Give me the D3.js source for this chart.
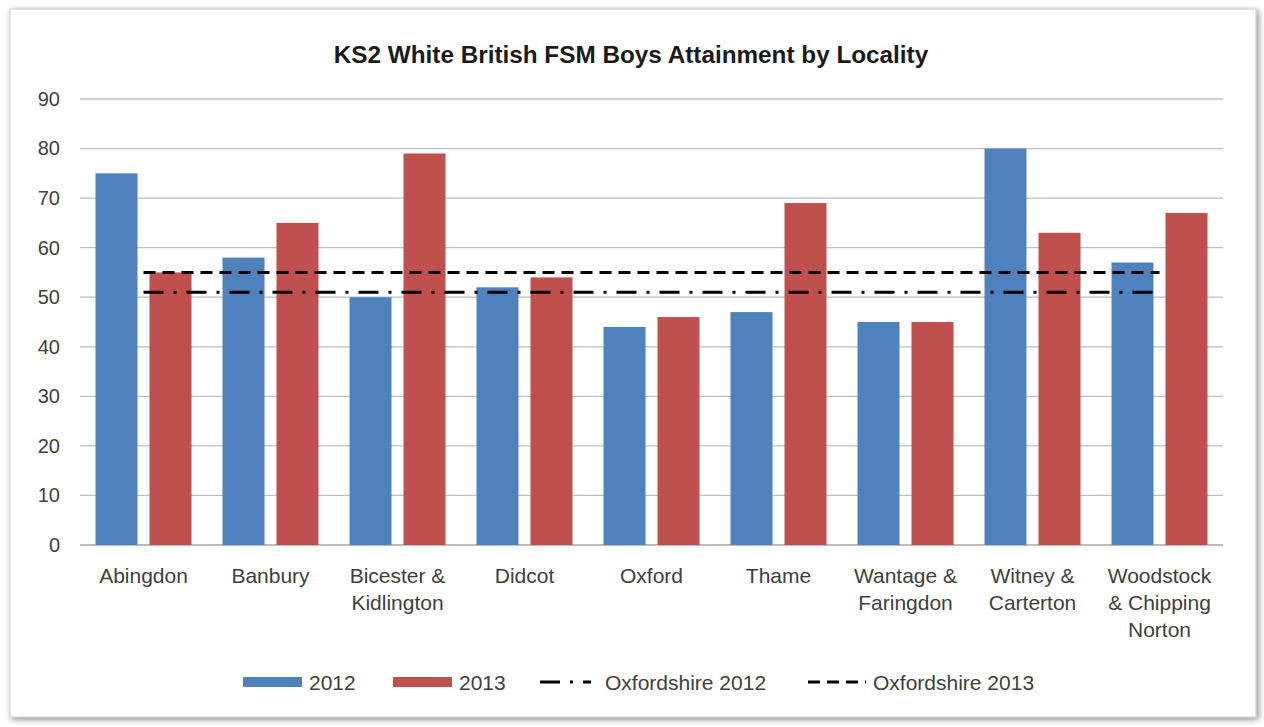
<!DOCTYPE html>
<html>
<head>
<meta charset="utf-8">
<script src="https://cdn.jsdelivr.net/npm/d3@7"></script>
<style>
  body { margin: 0; background: #fff; }
  text { font-family: "Liberation Sans", "DejaVu Sans", sans-serif; fill: #404040; }
</style>
</head>
<body>
<script>
// chart data
var localities = ["Abingdon", "Banbury", "Bicester & Kidlington", "Didcot", "Oxford",
  "Thame", "Wantage & Faringdon", "Witney & Carterton", "Woodstock & Chipping Norton"];
var labelLines = [["Abingdon"], ["Banbury"], ["Bicester &", "Kidlington"], ["Didcot"], ["Oxford"],
  ["Thame"], ["Wantage &", "Faringdon"], ["Witney &", "Carterton"], ["Woodstock", "& Chipping", "Norton"]];
var values2012 = [75, 58, 50, 52, 44, 47, 45, 80, 57];
var values2013 = [55, 65, 79, 54, 46, 69, 45, 63, 67];
var oxon2012 = 51;
var oxon2013 = 55;
var yTicks = [0, 10, 20, 30, 40, 50, 60, 70, 80, 90];

var w = 1264, h = 727;
var plotLeft = 80, plotRight = 1223, plotTop = 99, plotBottom = 545;

var svg = d3.select("body").append("svg")
  .attr("width", w)
  .attr("height", h);

// shadow + frame
var defs = svg.append("defs");
var f = defs.append("filter").attr("id", "shadow").attr("x", "-5%").attr("y", "-5%").attr("width", "110%").attr("height", "110%");
f.append("feDropShadow").attr("dx", 2).attr("dy", 2).attr("stdDeviation", 3).attr("flood-color", "#000").attr("flood-opacity", 0.45);

svg.append("rect")
  .attr("x", 10).attr("y", 9)
  .attr("width", 1246).attr("height", 708)
  .attr("fill", "#fff")
  .attr("stroke", "#c8c8c8")
  .attr("filter", "url(#shadow)");

svg.append("text")
  .attr("x", 631).attr("y", 63)
  .attr("text-anchor", "middle")
  .attr("font-size", "24.3px")
  .attr("font-weight", "bold")
  .style("fill", "#1a1a1a")
  .text("KS2 White British FSM Boys Attainment by Locality");

var x0 = d3.scaleBand()
  .domain(localities)
  .range([plotLeft, plotRight])
  .paddingInner(0.244)
  .paddingOuter(0.122);

var x1 = d3.scaleBand()
  .domain(["2012", "2013"])
  .range([0, x0.bandwidth()])
  .paddingInner(0.222);

var y = d3.scaleLinear()
  .domain([0, 90])
  .range([plotBottom, plotTop]);

// gridlines
svg.append("g")
  .selectAll("line")
  .data(yTicks)
  .enter()
  .append("line")
  .attr("x1", plotLeft).attr("x2", plotRight)
  .attr("y1", function(d) { return y(d); })
  .attr("y2", function(d) { return y(d); })
  .attr("stroke", function(d) { return d === 0 ? "#a6a6a6" : "#bebebe"; })
  .attr("stroke-width", 1.3);

// y axis labels
var yAxis = d3.axisLeft(y).tickValues(yTicks).tickSize(0).tickPadding(20);
var yg = svg.append("g")
  .attr("transform", "translate(" + plotLeft + ",0)")
  .call(yAxis);
yg.select(".domain").remove();
yg.selectAll("text").attr("font-size", "20px").style("fill", "#404040")
  .style("font-family", "Liberation Sans, sans-serif");

// bars
var groups = svg.append("g")
  .selectAll("g")
  .data(localities)
  .enter()
  .append("g")
  .attr("transform", function(d) { return "translate(" + x0(d) + ",0)"; });

groups.append("rect")
  .attr("x", x1("2012"))
  .attr("y", function(d, i) { return y(values2012[i]); })
  .attr("width", x1.bandwidth())
  .attr("height", function(d, i) { return y(0) - y(values2012[i]); })
  .attr("fill", "#4F81BD");

groups.append("rect")
  .attr("x", x1("2013"))
  .attr("y", function(d, i) { return y(values2013[i]); })
  .attr("width", x1.bandwidth())
  .attr("height", function(d, i) { return y(0) - y(values2013[i]); })
  .attr("fill", "#C0504D");

// county lines
var line = d3.line()
  .x(function(d) { return x0(d[0]) + x0.bandwidth() / 2; })
  .y(function(d) { return y(d[1]); });

svg.append("path")
  .datum(localities.map(function(d) { return [d, oxon2013]; }))
  .attr("d", line)
  .attr("fill", "none")
  .attr("stroke", "#000")
  .attr("stroke-width", 3)
  .attr("stroke-dasharray", "12,7");

svg.append("path")
  .datum(localities.map(function(d) { return [d, oxon2012]; }))
  .attr("d", line)
  .attr("fill", "none")
  .attr("stroke", "#000")
  .attr("stroke-width", 3)
  .attr("stroke-dasharray", "20,10,3,10");

// x labels
var xl = svg.append("g")
  .selectAll("text")
  .data(labelLines)
  .enter()
  .append("text")
  .attr("text-anchor", "middle")
  .attr("font-size", "21px")
  .attr("x", function(d, i) { return x0(localities[i]) + x0.bandwidth() / 2; })
  .attr("y", 583);
xl.selectAll("tspan")
  .data(function(d) { return d; })
  .enter()
  .append("tspan")
  .attr("x", function() { return d3.select(this.parentNode).attr("x"); })
  .attr("dy", function(d, i) { return i === 0 ? 0 : 27; })
  .text(function(d) { return d; });

// legend
var leg = svg.append("g").attr("transform", "translate(0,682)");
var legendItems = [
  { name: "2012", type: "bar", color: "#4F81BD", x: 243 },
  { name: "2013", type: "bar", color: "#C0504D", x: 393 },
  { name: "Oxfordshire 2012", type: "line", dash: "20,10,3,10,8,20", x: 540 },
  { name: "Oxfordshire 2013", type: "line", dash: "12,7", x: 808 }
];
legendItems.forEach(function(it) {
  if (it.type === "bar") {
    leg.append("rect").attr("x", it.x).attr("y", -5).attr("width", 59).attr("height", 10).attr("fill", it.color);
    leg.append("text").attr("x", it.x + 66).attr("y", 8).attr("font-size", "21px").text(it.name);
  } else {
    leg.append("line").attr("x1", it.x).attr("x2", it.x + 58).attr("y1", 0).attr("y2", 0)
      .attr("stroke", "#000").attr("stroke-width", 3).attr("stroke-dasharray", it.dash);
    leg.append("text").attr("x", it.x + 65).attr("y", 8).attr("font-size", "21px").text(it.name);
  }
});
</script>
</body>
</html>
